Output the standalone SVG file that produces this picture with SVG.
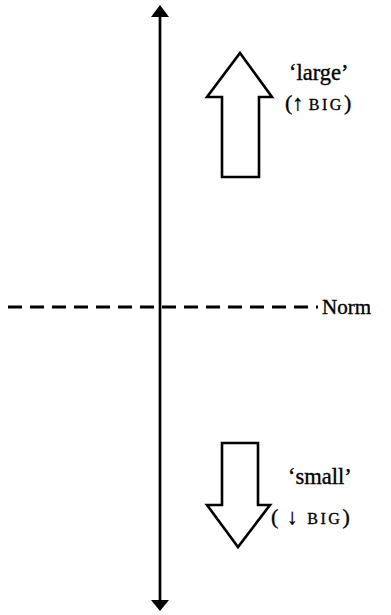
<svg xmlns="http://www.w3.org/2000/svg" width="391" height="615" viewBox="0 0 391 615">
<style>
.t{font-family:"Liberation Serif","Times New Roman",serif;fill:#000;stroke:#000;stroke-width:0.35}
.sc{font-size:16px;letter-spacing:2.5px}
.ln{stroke:#000;fill:none}
.blk{stroke:#000;stroke-width:2.6;fill:#fff;stroke-linejoin:miter}
</style>
<rect width="391" height="615" fill="#fff"/>
<g id="connectors">
<line class="ln" x1="160" y1="14" x2="160" y2="602" stroke-width="2.7"/>
<polygon points="160,5 151,17 169,17" fill="#000"/>
<polygon points="160,611 151,600 169,600" fill="#000"/>
<line class="ln" x1="8" y1="307" x2="318" y2="307" stroke-width="3" stroke-dasharray="14,8"/>
</g>
<g id="norm"><text class="t" x="322" y="314" font-size="21">Norm</text></g>
<g id="large">
<polygon class="blk" points="240,53 272,97 259,97 259,177 222,177 222,97 207,97"/>
<text class="t" x="289" y="80" font-size="22.5">‘large’</text>
<text class="t" x="285" y="110" font-size="22">(↑ <tspan class="sc">BIG</tspan>)</text>
</g>
<g id="small">
<polygon class="blk" points="222,443 258,443 258,505 270,505 238,547 207,505 222,505"/>
<text class="t" x="288" y="484" font-size="22.5">‘small’</text>
<text class="t" x="271" y="524" font-size="22">( <tspan dx="3">↓</tspan> <tspan class="sc" dx="4">BIG</tspan>)</text>
</g>
</svg>
